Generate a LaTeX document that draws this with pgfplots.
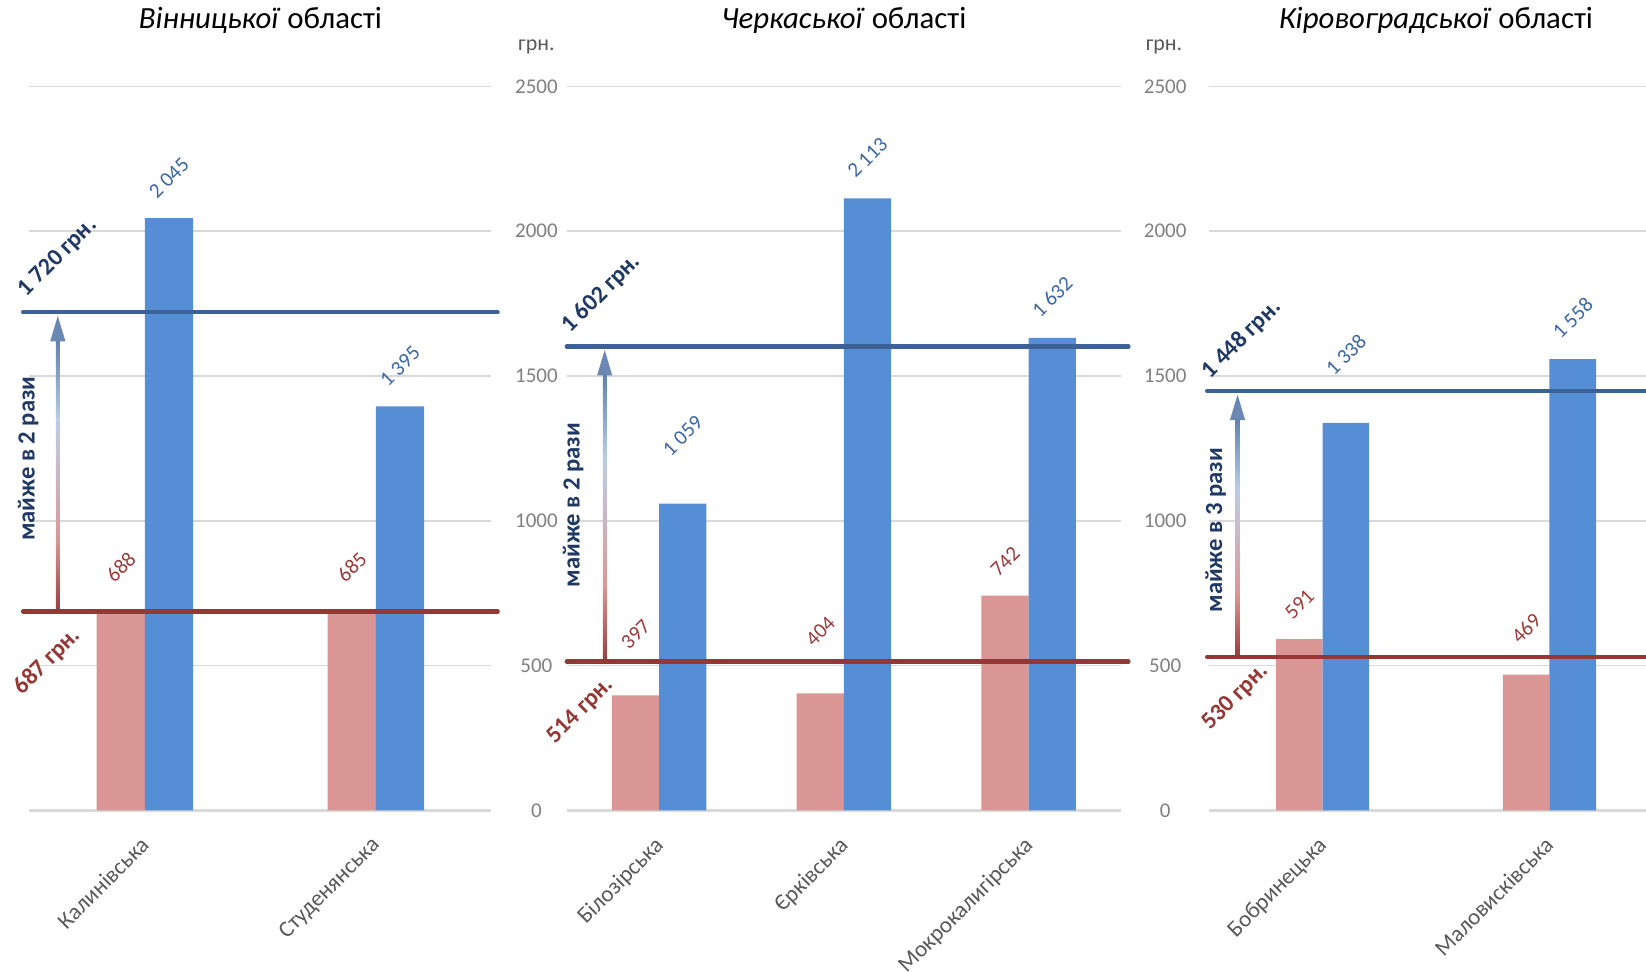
\documentclass[border=0pt]{standalone}
\usepackage{fontspec}
\setmainfont{Carlito}
\usepackage{pgfplots}
\usepackage{pgfplotstable}
\pgfplotsset{compat=1.18}

\definecolor{barpink}{HTML}{D99694}
\definecolor{barblue}{HTML}{558ED5}
\definecolor{lred}{HTML}{953735}
\definecolor{lblue}{HTML}{3B6197}
\definecolor{navy}{HTML}{1F3864}
\definecolor{dred}{HTML}{953735}
\definecolor{vblue}{HTML}{3B67A4}
\definecolor{vred}{HTML}{9B3B39}
\definecolor{tickgray}{HTML}{7F7F7F}
\definecolor{catgray}{HTML}{595959}
\definecolor{gridgray}{HTML}{D9D9D9}
\definecolor{ar1}{HTML}{9A3B3B}
\definecolor{ar2}{HTML}{D99694}
\definecolor{ar3}{HTML}{C9BBCB}
\definecolor{ar4}{HTML}{B9CDE5}
\definecolor{ar5}{HTML}{5E7FAE}
\definecolor{arhead}{HTML}{6A88B4}

\pgfdeclareverticalshading{arrowgrad}{100bp}{color(0bp)=(ar1); color(25bp)=(ar1); color(38bp)=(ar2); color(52bp)=(ar3); color(60bp)=(ar4); color(75bp)=(ar5); color(100bp)=(ar5)}

\pgfplotstableread{
x y off
0 688 22
1 685 22.5
}\vinpink
\pgfplotstableread{
x y off
0 2045 20
1 1395 20
}\vinblue
\pgfplotstableread{
x y off
0 397 30.5
1 404 31
2 742 17
}\cherpink
\pgfplotstableread{
x y off
0 1059 34
1 2113 20.5
2 1632 20.5
}\cherblue
\pgfplotstableread{
x y off
0 591 17.5
1 469 23
}\kirpink
\pgfplotstableread{
x y off
0 1338 34
1 1558 20.5
}\kirblue

\tikzset{
  boldlab/.style={font=\bfseries\fontsize{12}{14}\selectfont, text=#1},
}
\pgfplotsset{
  panel/.style={
    scale only axis, height=362pt, anchor=south west,
    ymin=0, ymax=2500, ytick={0,500,...,2500},
    axis x line*=bottom, axis y line*=left,
    y axis line style={draw=none},
    x axis line style={gridgray, line width=1.5pt},
    major tick length=0pt,
    ymajorgrids, grid style={gridgray, line width=0.8pt},
    xtick={0,1,2},
    x tick label style={rotate=45, anchor=north east, font=\fontsize{11.5}{13}\selectfont, text=catgray, xshift=-7.5pt, yshift=-3.25pt},
    y tick label style={font=\fontsize{10.5}{12}\selectfont, text=tickgray, anchor=center},
    /pgf/number format/assume math mode=true,
    /pgf/number format/1000 sep={},
    clip=false,
    title style={at={(0.5,1)}, anchor=center, yshift=27pt, font=\fontsize{15.4}{18}\selectfont},
  },
  barlab/.style 2 args={
    visualization depends on={\thisrow{off}\as\labeloff},
    nodes near coords={\pgfmathprintnumber[fixed,precision=0,1000 sep={\ }]{\pgfplotspointmeta}},
    nodes near coords style={font=\fontsize{10.5}{12}\selectfont, anchor=center, xshift=#2, yshift=\labeloff pt, rotate=45, text=#1},
  },
  refline/.style={#1, line width=2.2pt, line cap=round, forget plot},
}

\newcommand{\gradarrow}[3]{%
  \shade[shading=arrowgrad] ([xshift=-0.95pt]axis cs:#1,#2) rectangle ([xshift=0.95pt,yshift=-13pt]axis cs:#1,#3);
  \fill[arhead] ([xshift=-3.8pt,yshift=-14.5pt]axis cs:#1,#3) -- ([xshift=3.8pt,yshift=-14.5pt]axis cs:#1,#3) -- ([yshift=-1.8pt]axis cs:#1,#3) -- cycle;
}

\begin{document}
\begin{tikzpicture}
\path[use as bounding box] (0,0) rectangle (823pt,486pt);

% ---------- Panel 1 ----------
\begin{axis}[panel, at={(14.7pt,80.8pt)}, width=231pt, xmin=-0.5, xmax=1.5,
  xtick={0,1}, xticklabels={Калинівська, Студенянська}, yticklabels={,,,,,},
  title={\textit{Вінницької} області}]
\addplot[ybar, bar width=24.1pt, bar shift=-12.05pt, fill=barpink, draw=none, barlab={vred}{-12.05pt}] table[x=x,y=y] {\vinpink};
\addplot[ybar, bar width=24.1pt, bar shift=12.05pt, fill=barblue, draw=none, barlab={vblue}{12.05pt}] table[x=x,y=y] {\vinblue};
\gradarrow{-0.377}{687}{1720}
\addplot[refline=lblue] coordinates {(-0.527,1720) (1.527,1720)};
\addplot[refline=lred] coordinates {(-0.527,687) (1.527,687)};
\node[boldlab=navy, rotate=45] at (axis cs:-0.377,1909) {1 720 грн.};
\node[boldlab=dred, rotate=45] at (axis cs:-0.423,514) {687 грн.};
\node[boldlab=navy, font=\bfseries\fontsize{12.3}{14}\selectfont, rotate=90] at (axis cs:-0.505,1214) {майже в 2 рази};
\end{axis}

% ---------- Panel 2 ----------
\begin{axis}[panel, at={(283.4pt,80.8pt)}, width=277.1pt, xmin=-0.5, xmax=2.5,
  xtick={0,1,2}, xticklabels={Білозірська, Єрківська, Мокрокалигірська},
  y tick label style={xshift=-15.2pt},
  title={\textit{Черкаської} області}]
\addplot[ybar, bar width=23.6pt, bar shift=-11.8pt, fill=barpink, draw=none, barlab={vred}{-11.8pt}] table[x=x,y=y] {\cherpink};
\addplot[ybar, bar width=23.6pt, bar shift=11.8pt, fill=barblue, draw=none, barlab={vblue}{11.8pt}] table[x=x,y=y] {\cherblue};
\gradarrow{-0.295}{514}{1602}
\addplot[refline=lblue] coordinates {(-0.5,1602) (2.54,1602)};
\addplot[refline=lred] coordinates {(-0.5,514) (2.54,514)};
\node[boldlab=navy, rotate=45] at (axis cs:-0.3125,1783) {1 602 грн.};
\node[boldlab=dred, rotate=45] at (axis cs:-0.426,344) {514 грн.};
\node[boldlab=navy, font=\bfseries\fontsize{12.3}{14}\selectfont, rotate=90] at (axis cs:-0.466,1054) {майже в 2 рази};
\node[font=\fontsize{11}{13}\selectfont, text=catgray] at ([xshift=-15.2pt,yshift=19.5pt]rel axis cs:0,1) {грн.};
\end{axis}

% ---------- Panel 3 ----------
\begin{axis}[panel, at={(604.6pt,80.8pt)}, width=226.8pt, xmin=-0.5, xmax=1.5,
  xtick={0,1}, xticklabels={Бобринецька, Маловисківська},
  y tick label style={xshift=-22pt},
  title={\textit{Кіровоградської} області}]
\addplot[ybar, bar width=23.3pt, bar shift=-11.65pt, fill=barpink, draw=none, barlab={vred}{-11.65pt}] table[x=x,y=y] {\kirpink};
\addplot[ybar, bar width=23.3pt, bar shift=11.65pt, fill=barblue, draw=none, barlab={vblue}{11.65pt}] table[x=x,y=y] {\kirblue};
\gradarrow{-0.375}{530}{1448}
\addplot[refline=lblue] coordinates {(-0.509,1448) (1.6,1448)};
\addplot[refline=lred] coordinates {(-0.509,530) (1.6,530)};
\node[boldlab=navy, rotate=45] at (axis cs:-0.356,1627) {1 448 грн.};
\node[boldlab=dred, rotate=45] at (axis cs:-0.384,391) {530 грн.};
\node[boldlab=navy, font=\bfseries\fontsize{12.3}{14}\selectfont, rotate=90] at (axis cs:-0.472,967) {майже в 3 рази};
\node[font=\fontsize{11}{13}\selectfont, text=catgray] at ([xshift=-22.6pt,yshift=19.5pt]rel axis cs:0,1) {грн.};
\end{axis}
\end{tikzpicture}
\end{document}
